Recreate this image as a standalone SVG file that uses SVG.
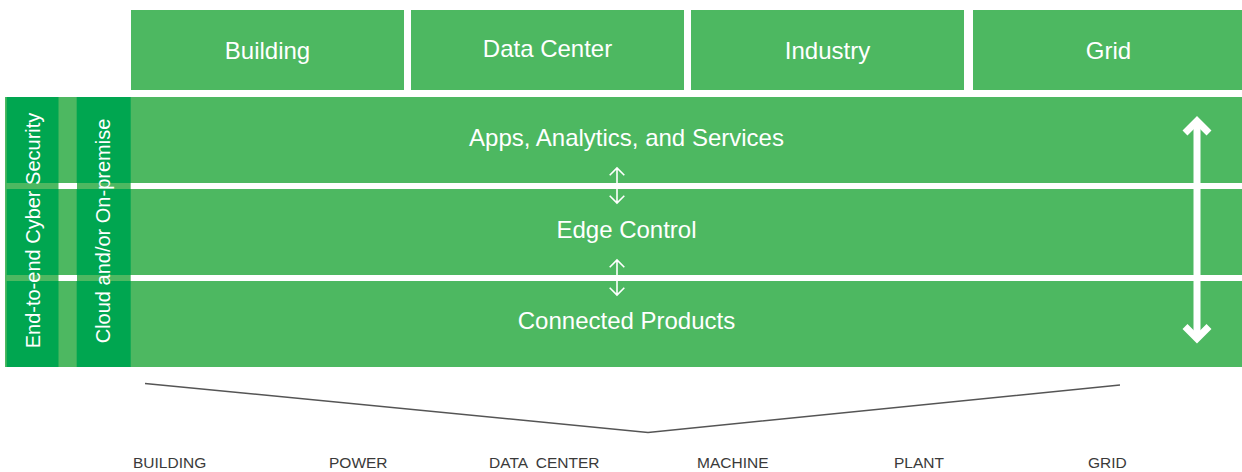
<svg xmlns="http://www.w3.org/2000/svg" width="1242" height="472" viewBox="0 0 1242 472">
<style>
.lg{fill:#4DB861}
.dg{fill:#00A650}
.t{font-family:"Liberation Sans",Arial,sans-serif;fill:#ffffff;text-anchor:middle}
.tb{font-size:24px}
.tv{font-size:20px}
.bl{font-family:"Liberation Sans",Arial,sans-serif;font-size:15.5px;fill:#3a3a3a;white-space:pre}
.sa{stroke:#ffffff;stroke-width:1.6;fill:none}
.ba{stroke:#ffffff;stroke-width:7;fill:none}
</style>
<rect width="1242" height="472" fill="#ffffff"/>
<g id="top-building"><rect class="lg" x="131" y="10" width="273" height="80"/><text class="t tb" x="267.5" y="59">Building</text></g>
<g id="top-datacenter"><rect class="lg" x="411" y="10" width="273" height="80"/><text class="t tb" x="547.5" y="57">Data Center</text></g>
<g id="top-industry"><rect class="lg" x="691" y="10" width="273" height="80"/><text class="t tb" x="827.5" y="59">Industry</text></g>
<g id="top-grid"><rect class="lg" x="973" y="10" width="269" height="80"/><text class="t tb" x="1108.5" y="59">Grid</text></g>
<g id="layers">
<rect class="lg" x="5" y="97" width="1237" height="270"/>
<rect fill="#ffffff" x="58.5" y="183" width="18.5" height="6"/>
<rect fill="#ffffff" x="130.7" y="183" width="1111.3" height="6"/>
<rect fill="#ffffff" x="58.5" y="275" width="18.5" height="6"/>
<rect fill="#ffffff" x="130.7" y="275" width="1111.3" height="6"/>
</g>
<g id="security">
<rect class="dg" x="6.7" y="97" width="51.8" height="86"/>
<rect class="dg" x="6.7" y="189" width="51.8" height="86"/>
<rect class="dg" x="6.7" y="281" width="51.8" height="86"/>
<text class="t tv" transform="translate(39.5,230.5) rotate(-90)">End-to-end Cyber Security</text>
</g>
<g id="cloud">
<rect class="dg" x="76.7" y="97" width="54" height="86"/>
<rect class="dg" x="76.7" y="189" width="54" height="86"/>
<rect class="dg" x="76.7" y="281" width="54" height="86"/>
<text class="t tv" transform="translate(110,231) rotate(-90)">Cloud and/or On-premise</text>
</g>
<g id="apps"><text class="t tb" x="626.5" y="146">Apps, Analytics, and Services</text></g>
<g id="edge"><text class="t tb" x="626.5" y="238">Edge Control</text></g>
<g id="products"><text class="t tb" x="626.5" y="329">Connected Products</text></g>
<g id="connectors">
<path class="sa" d="M617,168 V203 M609.7,175.3 L617,168 L624.3,175.3 M609.7,195.7 L617,203 L624.3,195.7"/>
<path class="sa" d="M617,260 V295 M609.7,267.3 L617,260 L624.3,267.3 M609.7,287.7 L617,295 L624.3,287.7"/>
<path class="ba" d="M1197,121 V338.5"/>
<polyline class="ba" points="1185,133 1197,121 1209,133"/>
<polyline class="ba" points="1185,326.5 1197,338.5 1209,326.5"/>
<polyline points="145,383.5 648,432.5 1120,385" fill="none" stroke="#555555" stroke-width="1.5"/>
</g>
<g id="bottom-labels">
<text class="bl" x="133" y="468">BUILDING</text>
<text class="bl" x="329" y="468">POWER</text>
<text class="bl" x="489" y="468">DATA  CENTER</text>
<text class="bl" x="697" y="468">MACHINE</text>
<text class="bl" x="894" y="468">PLANT</text>
<text class="bl" x="1088" y="468">GRID</text>
</g>
</svg>
